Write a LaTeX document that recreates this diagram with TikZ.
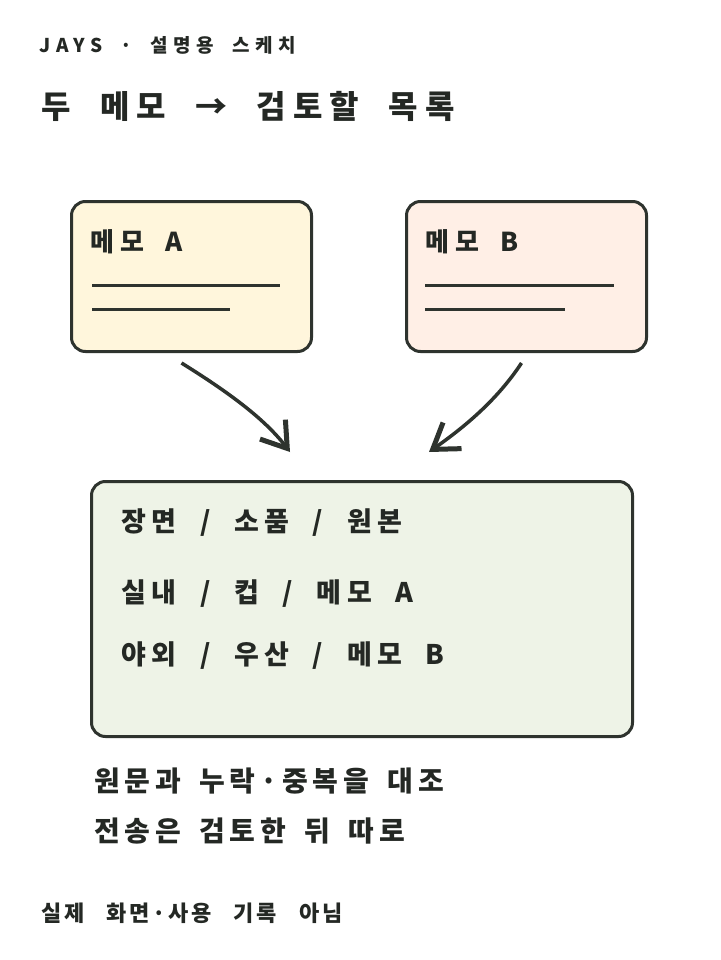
\documentclass[tikz,border=0pt]{standalone}
\usepackage{fontspec}
\newfontfamily\krSub{Noto Sans CJK KR}[LetterSpace=30,WordSpace=1.8]
\newfontfamily\krTitle{Noto Sans CJK KR}[LetterSpace=22,WordSpace=2.05]
\newfontfamily\krMemo{Noto Sans CJK KR}[LetterSpace=24,WordSpace=1.7]
\newfontfamily\krList{Noto Sans CJK KR}[LetterSpace=20,WordSpace=2.05]
\newfontfamily\krBody{Noto Sans CJK KR}[LetterSpace=17,WordSpace=1.65]
\newfontfamily\krNote{Noto Sans CJK KR}[LetterSpace=12,WordSpace=2.9]
\usetikzlibrary{arrows.meta,calc}
\definecolor{inkc}{HTML}{2E332E}
\definecolor{textc}{HTML}{242824}
\definecolor{fillA}{HTML}{FFF6DC}
\definecolor{fillB}{HTML}{FFEFE6}
\definecolor{fillC}{HTML}{EEF3E7}
\begin{document}
\begin{tikzpicture}[x=1pt,y=-1pt,
  card/.style={draw=inkc, line width=3pt, rounded corners=14pt, anchor=north west, inner sep=0pt},
  lbl/.style={anchor=west, inner sep=0pt, text=textc},
  fs/.style n args={2}{font=#1\bfseries\fontsize{#2}{#2}\selectfont},
  rule/.style={draw=inkc, line width=3pt},
  arr/.style={draw=inkc, line width=3.5pt, -{Straight Barb[length=24pt,width=32pt,line width=5pt]}}
]
\path[use as bounding box, fill=white] (0,0) rectangle (720,960);

\node[lbl, fs={\krSub}{19}] (sub) at (39,45) {JAYS · 설명용 스케치};
\node[lbl, fs={\krTitle}{32}] (title) at (41,106) {두 메모 → 검토할 목록};

\node[card, fill=fillA, minimum width=240pt, minimum height=150pt] (memoA) at (70,200) {};
\node[card, fill=fillB, minimum width=240pt, minimum height=150pt] (memoB) at (405,200) {};
\node[lbl, fs={\krMemo}{26}] (labA) at (90,242) {메모 A};
\node[lbl, fs={\krMemo}{26}] (labB) at (425,242) {메모 B};
\draw[rule] (92,285) -- (280,285);
\draw[rule] (92,309) -- (230,309);
\draw[rule] (425,285) -- (614,285);
\draw[rule] (425,309) -- (565,309);

\node[card, fill=fillC, minimum width=541pt, minimum height=255pt] (list) at (90,480) {};
\node[lbl, fs={\krList}{27}] (l1) at (121,523) {장면 / 소품 / 원본};
\node[lbl, fs={\krList}{27}] (l2) at (121,594) {실내 / 컵 / 메모 A};
\node[lbl, fs={\krList}{27}] (l3) at (121,656) {야외 / 우산 / 메모 B};

\coordinate (a1) at ($(memoA.south)+(-10,10)$);
\coordinate (a2) at ($(list.north)+(-72,-28)$);
\coordinate (b1) at ($(memoB.south)+(-5,10)$);
\coordinate (b2) at ($(list.north)+(67,-28)$);
\draw[arr] (a1) .. controls ($(a1)+(45,28)$) and ($(a2)+(-26,-34)$) .. (a2);
\draw[arr] (b1) .. controls ($(b1)+(-25,38)$) and ($(b2)+(34,-24)$) .. (b2);

\node[lbl, fs={\krBody}{28}] (n1) at (94,781) {원문과 누락·중복을 대조};
\node[lbl, fs={\krBody}{28}] (n2) at (94,831) {전송은 검토한 뒤 따로};
\node[lbl, fs={\krNote}{22}] (n3) at (41,913) {실제 화면·사용 기록 아님};
\end{tikzpicture}
\end{document}
